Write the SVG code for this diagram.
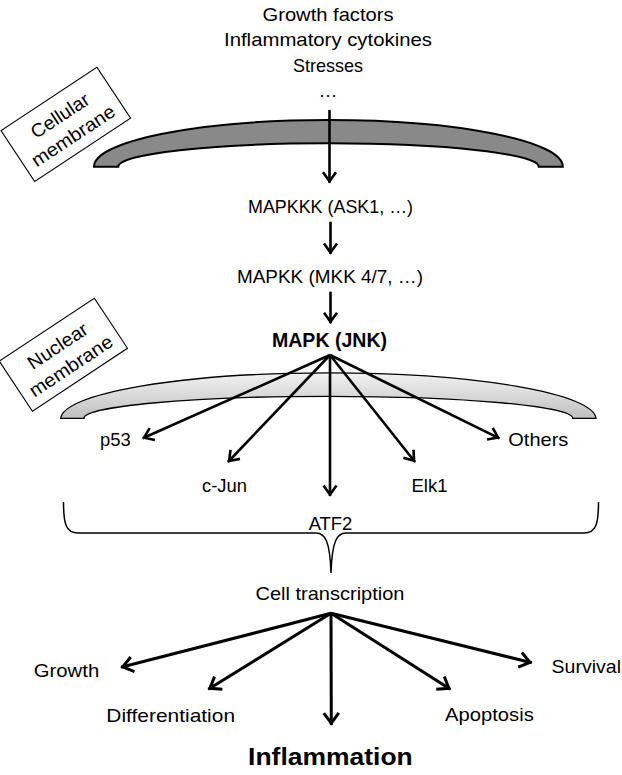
<svg xmlns="http://www.w3.org/2000/svg" width="622" height="775" viewBox="0 0 622 775">
<style>
text{font-family:"Liberation Sans",Arial,sans-serif;font-size:19px;fill:#000;text-anchor:middle}
.b{font-weight:bold}
.c{stroke:#000;stroke-width:2.6;fill:none}
.c2{stroke:#000;stroke-width:3;fill:none}
.box{fill:#fff;stroke:#000;stroke-width:1.1}
</style>
<defs>
<marker id="ah" viewBox="-14 -9 16 18" refX="0" refY="0" markerWidth="16" markerHeight="18" orient="auto" markerUnits="userSpaceOnUse">
<path d="M-10.5,-6.5 L-1.5,0 L-10.5,6.5" fill="none" stroke="#000" stroke-width="2.6"/>
</marker>
<marker id="ah2" viewBox="-16 -10 18 20" refX="0" refY="0" markerWidth="18" markerHeight="20" orient="auto" markerUnits="userSpaceOnUse">
<path d="M-12,-7.5 L-1.8,0 L-12,7.5" fill="none" stroke="#000" stroke-width="3"/>
</marker>
<linearGradient id="ng" x1="0" y1="0" x2="0" y2="1">
<stop offset="0" stop-color="#f2f2f2"/>
<stop offset="1" stop-color="#bfbfbf"/>
</linearGradient>
</defs>

<g id="stimuli">
<text x="328" y="20.5" textLength="131" lengthAdjust="spacingAndGlyphs">Growth factors</text>
<text x="328" y="46" textLength="208" lengthAdjust="spacingAndGlyphs">Inflammatory cytokines</text>
<text x="328" y="71.5" textLength="70" lengthAdjust="spacingAndGlyphs">Stresses</text>
<text x="328" y="97">…</text>
</g>

<g id="cellular-membrane">
<path d="M94,166.7 A234.4,46.7 0 0 1 562.8,166.7 L538.8,166.7 A210.3,23.4 0 0 0 118.2,166.7 Z" fill="#898989" stroke="#000" stroke-width="2"/>
</g>

<g id="cellular-label" transform="translate(65.8,124.4) rotate(-33.5)">
<rect class="box" x="-57.5" y="-30.5" width="115" height="61"/>
<text x="0" y="-4" textLength="66" lengthAdjust="spacingAndGlyphs">Cellular</text>
<text x="0" y="20" textLength="96" lengthAdjust="spacingAndGlyphs">membrane</text>
</g>

<g id="mapkkk"><text x="330.5" y="213.3" textLength="165" lengthAdjust="spacingAndGlyphs">MAPKKK (ASK1, …)</text></g>
<g id="mapkk"><text x="330" y="283.3" textLength="186" lengthAdjust="spacingAndGlyphs">MAPKK (MKK 4/7, …)</text></g>
<g id="mapk"><text class="b" x="329.5" y="346.7" style="font-size:21px" textLength="115" lengthAdjust="spacingAndGlyphs">MAPK (JNK)</text></g>

<g id="nuclear-membrane">
<path d="M60.7,418.3 A267.7,46.3 0 0 1 596,418.3 L572.7,418.3 A244.3,22 0 0 0 84,418.3 Z" fill="url(#ng)" stroke="#000" stroke-width="1.3"/>
</g>

<g id="nuclear-label" transform="translate(63.4,354.7) rotate(-33.5)">
<rect class="box" x="-57" y="-30" width="114" height="60"/>
<text x="0" y="-4" textLength="68" lengthAdjust="spacingAndGlyphs">Nuclear</text>
<text x="0" y="20" textLength="96" lengthAdjust="spacingAndGlyphs">membrane</text>
</g>

<g id="p53"><text x="115.3" y="446" textLength="30.7" lengthAdjust="spacingAndGlyphs">p53</text></g>
<g id="others"><text x="538.3" y="446" textLength="60" lengthAdjust="spacingAndGlyphs">Others</text></g>
<g id="c-jun"><text x="224.5" y="492" textLength="45" lengthAdjust="spacingAndGlyphs">c-Jun</text></g>
<g id="elk1"><text x="429.5" y="492" textLength="36" lengthAdjust="spacingAndGlyphs">Elk1</text></g>
<g id="atf2"><text x="330.5" y="530" textLength="43.7" lengthAdjust="spacingAndGlyphs">ATF2</text></g>

<g id="brace">
<path d="M63.5,502 C63.5,524 66,533 78,533 L316,533 C325,533 330,541 331,573 C332,541 337,533 346,533 L584,533 C596,533 598.5,524 598.5,502" fill="none" stroke="#000" stroke-width="1.5"/>
</g>

<g id="cell-transcription"><text x="330" y="599.5" textLength="149" lengthAdjust="spacingAndGlyphs">Cell transcription</text></g>
<g id="growth"><text x="66.5" y="677" textLength="65.5" lengthAdjust="spacingAndGlyphs">Growth</text></g>
<g id="survival"><text x="586.3" y="673" textLength="69.4" lengthAdjust="spacingAndGlyphs">Survival</text></g>
<g id="differentiation"><text x="170.7" y="722" textLength="128.7" lengthAdjust="spacingAndGlyphs">Differentiation</text></g>
<g id="apoptosis"><text x="489.4" y="721" textLength="88.7" lengthAdjust="spacingAndGlyphs">Apoptosis</text></g>
<g id="inflammation"><text class="b" x="330.4" y="765" style="font-size:23.5px" textLength="164.7" lengthAdjust="spacingAndGlyphs">Inflammation</text></g>

<g id="connectors">
<line class="c" x1="329.5" y1="110" x2="329.5" y2="182.7" marker-end="url(#ah)"/>
<line class="c" x1="330.5" y1="221.7" x2="330.5" y2="254" marker-end="url(#ah)"/>
<line class="c" x1="330.5" y1="291.7" x2="330.5" y2="323.3" marker-end="url(#ah)"/>
<line class="c" x1="330" y1="355" x2="142.7" y2="438.3" marker-end="url(#ah)"/>
<line class="c" x1="330" y1="355" x2="228" y2="462" marker-end="url(#ah)"/>
<line class="c" x1="330" y1="355" x2="330" y2="496" marker-end="url(#ah)"/>
<line class="c" x1="330" y1="355" x2="415" y2="462" marker-end="url(#ah)"/>
<line class="c" x1="330" y1="355" x2="499.3" y2="438.3" marker-end="url(#ah)"/>
<line class="c2" x1="331" y1="613.3" x2="121" y2="667.3" marker-end="url(#ah2)"/>
<line class="c2" x1="331" y1="613.3" x2="208.3" y2="689.3" marker-end="url(#ah2)"/>
<line class="c2" x1="331" y1="613.3" x2="331.3" y2="725" marker-end="url(#ah2)"/>
<line class="c2" x1="331" y1="613.3" x2="450.4" y2="689.3" marker-end="url(#ah2)"/>
<line class="c2" x1="331" y1="613.3" x2="531.7" y2="662.7" marker-end="url(#ah2)"/>
</g>
</svg>
